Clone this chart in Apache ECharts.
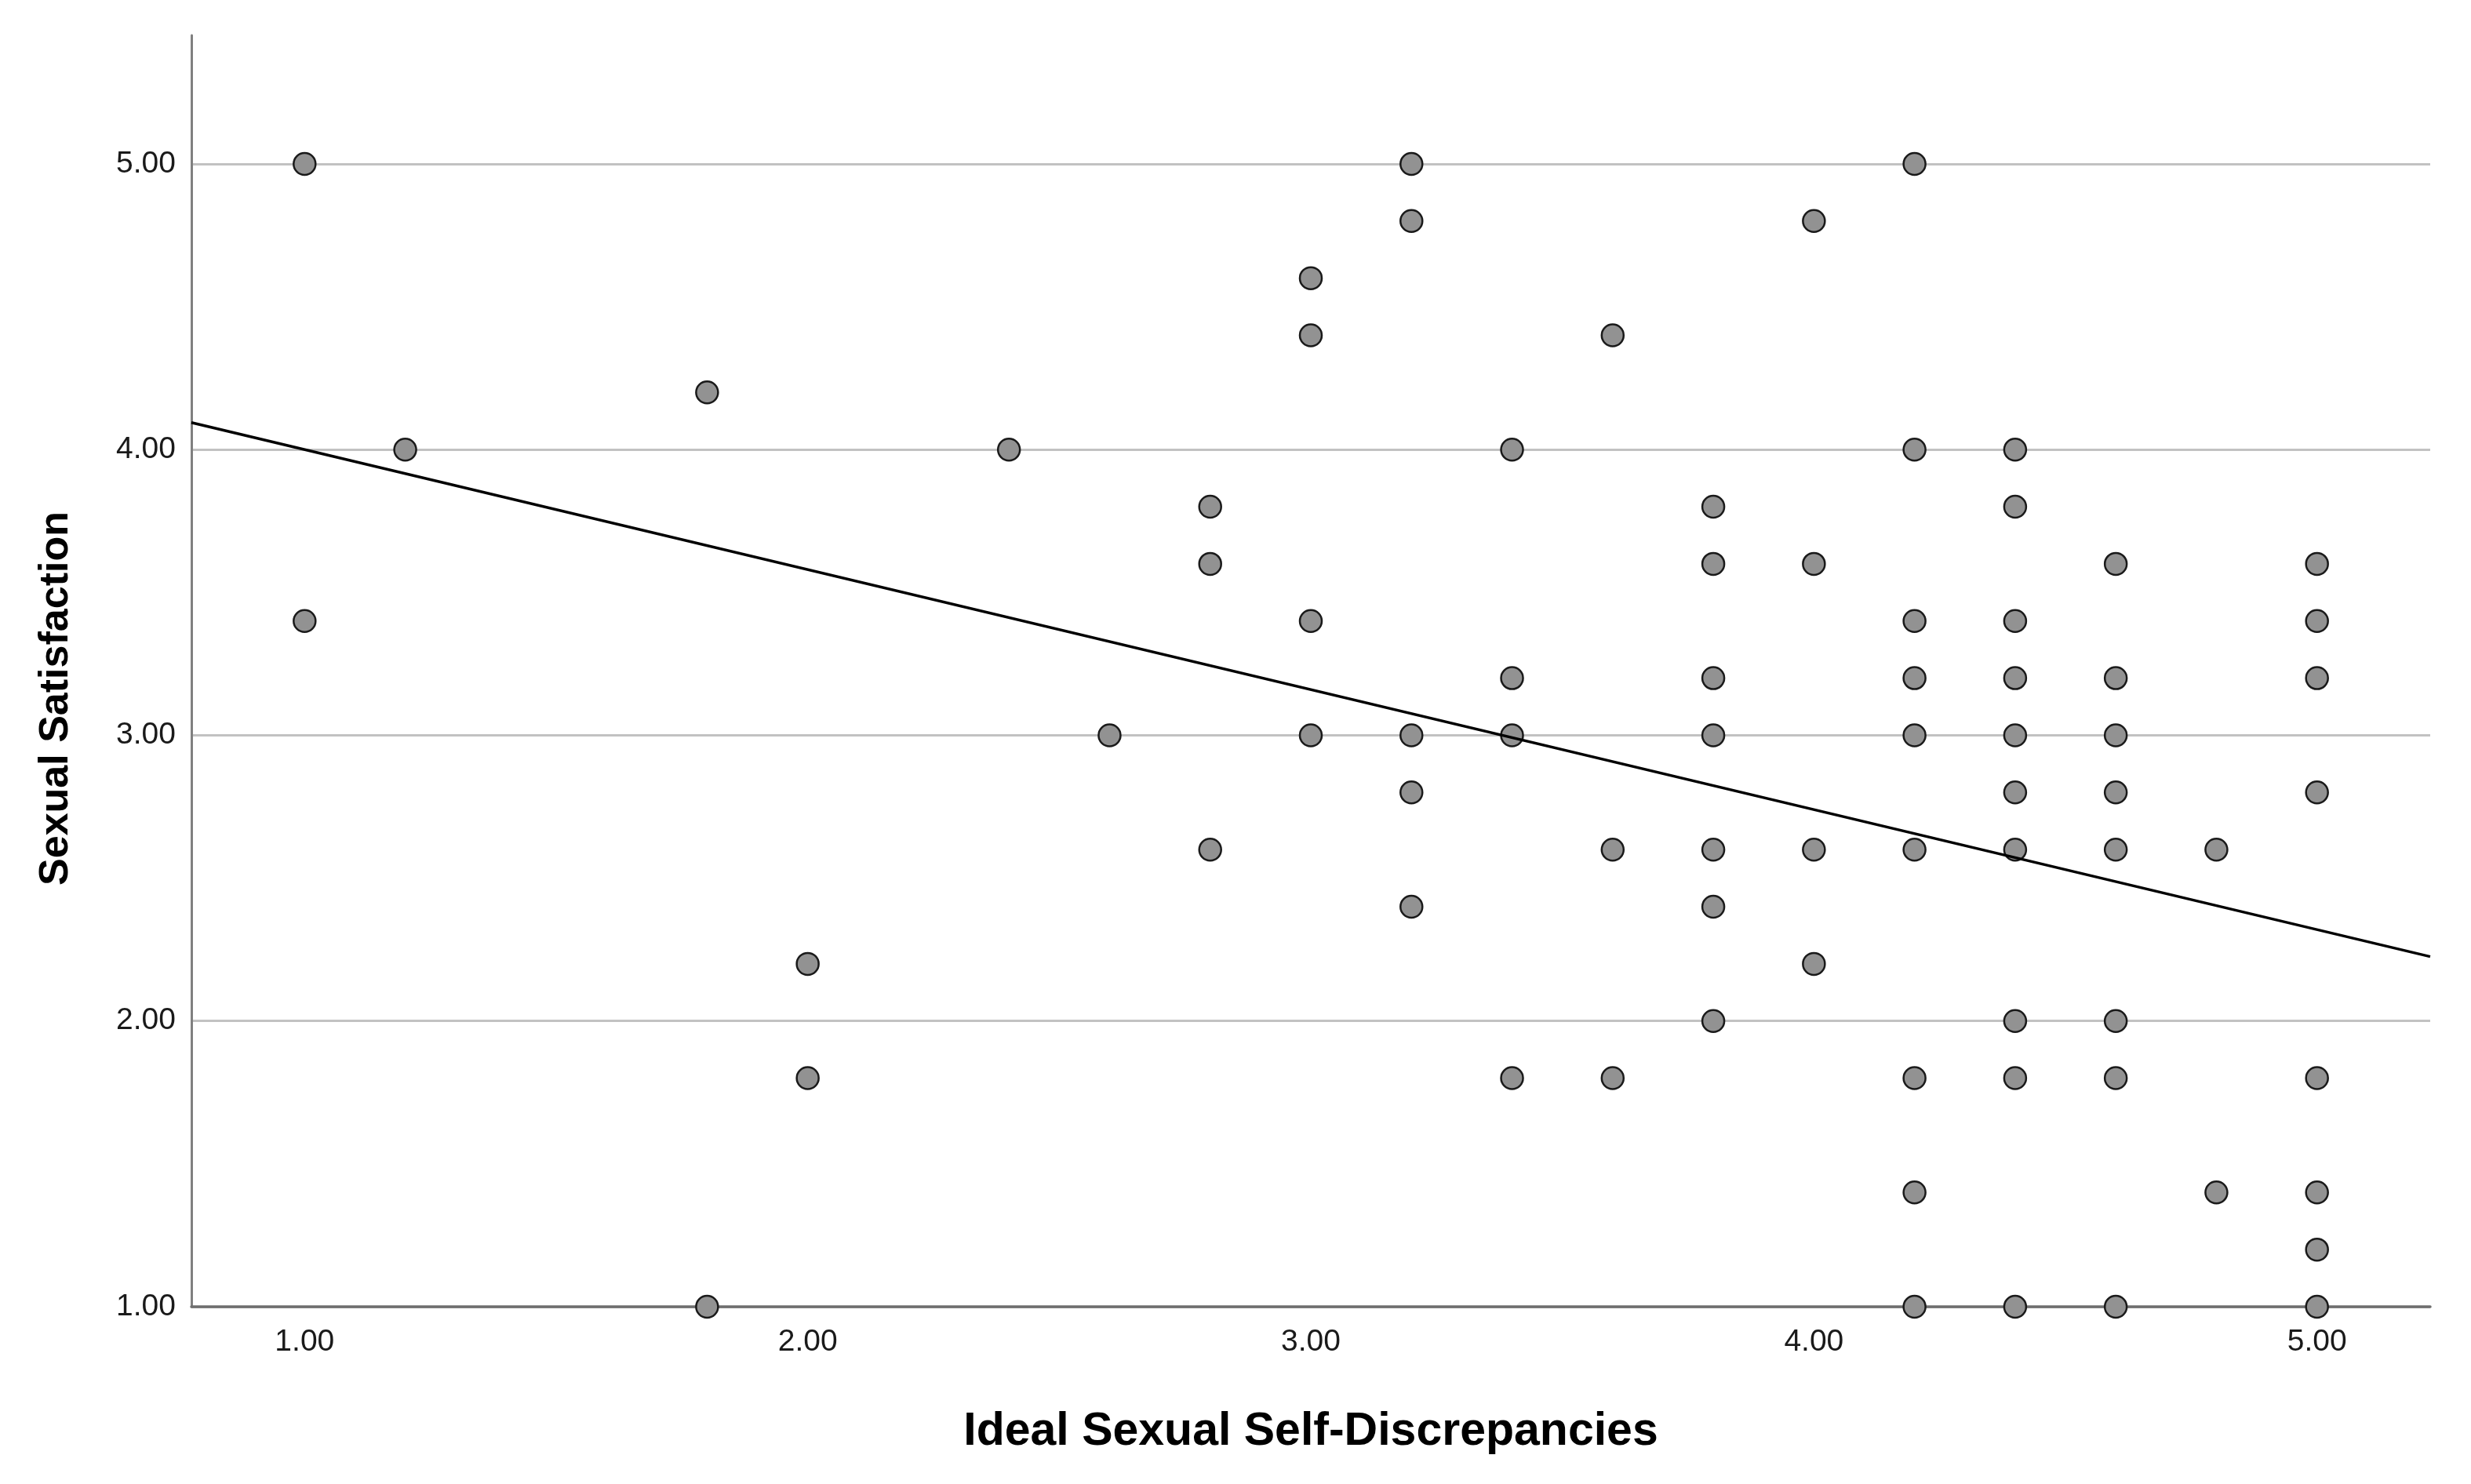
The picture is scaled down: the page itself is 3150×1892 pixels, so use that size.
<!DOCTYPE html>
<html>
<head>
<meta charset="utf-8">
<script src="https://cdn.jsdelivr.net/npm/echarts@6/dist/echarts.min.js"></script>
<style>
  html, body { margin: 0; padding: 0; background: #ffffff; }
  #chart { width: 3150px; height: 1892px; }
</style>
</head>
<body>
<div id="chart"></div>
<script>
// ---- Data ----
const idealDiscrepancy = [
  1.0, 1.0,
  1.2,
  1.8, 1.8,
  2.0, 2.0,
  2.4,
  2.6,
  2.8, 2.8, 2.8,
  3.0, 3.0, 3.0, 3.0,
  3.2, 3.2, 3.2, 3.2, 3.2,
  3.4, 3.4, 3.4, 3.4,
  3.6, 3.6, 3.6,
  3.8, 3.8, 3.8, 3.8, 3.8, 3.8, 3.8,
  4.0, 4.0, 4.0, 4.0,
  4.2, 4.2, 4.2, 4.2, 4.2, 4.2, 4.2, 4.2, 4.2,
  4.4, 4.4, 4.4, 4.4, 4.4, 4.4, 4.4, 4.4, 4.4, 4.4,
  4.6, 4.6, 4.6, 4.6, 4.6, 4.6, 4.6, 4.6,
  4.8, 4.8,
  5.0, 5.0, 5.0, 5.0, 5.0, 5.0, 5.0, 5.0
];
const sexualSatisfaction = [
  5.0, 3.4,
  4.0,
  4.2, 1.0,
  2.2, 1.8,
  4.0,
  3.0,
  3.8, 3.6, 2.6,
  4.6, 4.4, 3.4, 3.0,
  5.0, 4.8, 3.0, 2.8, 2.4,
  4.0, 3.2, 3.0, 1.8,
  4.4, 2.6, 1.8,
  3.8, 3.6, 3.2, 3.0, 2.6, 2.4, 2.0,
  4.8, 3.6, 2.6, 2.2,
  5.0, 4.0, 3.4, 3.2, 3.0, 2.6, 1.8, 1.4, 1.0,
  4.0, 3.8, 3.4, 3.2, 3.0, 2.8, 2.6, 2.0, 1.8, 1.0,
  3.6, 3.2, 3.0, 2.8, 2.6, 2.0, 1.8, 1.0,
  2.6, 1.4,
  3.6, 3.4, 3.2, 2.8, 1.8, 1.4, 1.2, 1.0
];
// Linear fit line
const fitIntercept = 4.42;
const fitSlope = -0.42;
// Axis ticks and ranges
const xTicks = [1, 2, 3, 4, 5];
const yTicks = [1, 2, 3, 4, 5];
const xRange = [0.775, 5.225];
const yRange = [1, 5.45];
const xTitle = 'Ideal Sexual Self-Discrepancies';
const yTitle = 'Sexual Satisfaction';

// ---- Build chart ----
const points = idealDiscrepancy.map((x, i) => [x, sexualSatisfaction[i]]);
const fitLine = [
  [xRange[0], fitIntercept + fitSlope * xRange[0]],
  [xRange[1], fitIntercept + fitSlope * xRange[1]]
];
const fmt = v => Number(v).toFixed(2);

const chart = echarts.init(document.getElementById('chart'), null, { renderer: 'canvas' });
chart.setOption({
  animation: false,
  backgroundColor: '#ffffff',
  grid: { left: 244, right: 52, top: 45, bottom: 226, containLabel: false },
  xAxis: {
    type: 'value',
    min: xRange[0],
    max: xRange[1],
    name: xTitle,
    nameLocation: 'middle',
    nameGap: 130,
    nameTextStyle: { fontFamily: '"Liberation Sans", Arial, sans-serif', fontWeight: 'bold', fontSize: 59, color: '#000000' },
    axisLine: { show: true, onZero: false, lineStyle: { color: '#6e6e6e', width: 3.5 } },
    axisTick: { show: false, customValues: xTicks },
    axisLabel: {
      customValues: xTicks,
      formatter: fmt,
      margin: 26,
      fontFamily: '"Liberation Sans", Arial, sans-serif',
      fontSize: 39,
      color: '#1a1a1a'
    },
    splitLine: { show: false }
  },
  yAxis: {
    type: 'value',
    min: yRange[0],
    max: yRange[1],
    interval: 1,
    name: yTitle,
    nameLocation: 'middle',
    nameRotate: 90,
    nameGap: 146,
    nameTextStyle: { fontFamily: '"Liberation Sans", Arial, sans-serif', fontWeight: 'bold', fontSize: 52, color: '#000000', padding: [0, 70, 0, 0] },
    axisLine: { show: true, onZero: false, lineStyle: { color: '#808080', width: 3 } },
    axisTick: { show: false, customValues: yTicks },
    axisLabel: {
      customValues: yTicks,
      formatter: fmt,
      margin: 20,
      fontFamily: '"Liberation Sans", Arial, sans-serif',
      fontSize: 39,
      color: '#1a1a1a'
    },
    splitLine: { show: true, lineStyle: { color: '#c2c2c2', width: 3 } }
  },
  series: [
    {
      type: 'scatter',
      data: points,
      symbol: 'circle',
      symbolSize: 28,
      itemStyle: { color: '#929292', borderColor: '#1a1a1a', borderWidth: 2.5, opacity: 1 },
      z: 3
    },
    {
      type: 'line',
      data: fitLine,
      showSymbol: false,
      symbol: 'none',
      lineStyle: { color: '#000000', width: 3.5 },
      z: 4,
      silent: true
    }
  ]
});
</script>
</body>
</html>
